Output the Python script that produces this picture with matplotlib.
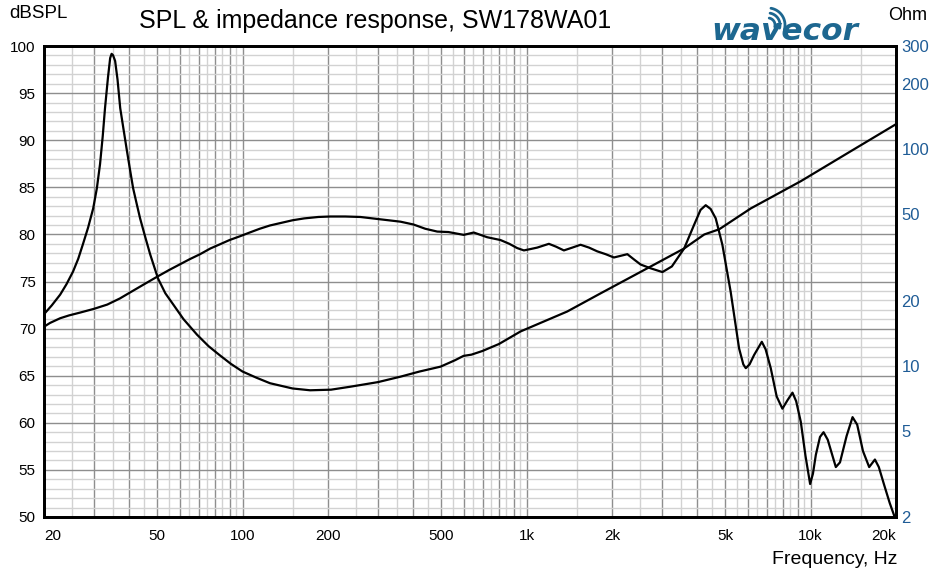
import numpy as np
import matplotlib
matplotlib.use("Agg")
import matplotlib.pyplot as plt
from matplotlib.ticker import FixedLocator, MultipleLocator, NullFormatter

plt.rcParams['font.family'] = ['Liberation Sans', 'DejaVu Sans']

# ---------------- data ----------------
spl_freq = [20, 21, 22.8, 24.5, 26.8, 30, 33.4, 37, 40, 45, 50, 55, 60, 65, 70.9, 77, 84, 90, 97.9,
            106, 115, 125, 135.8, 150, 165, 185, 204, 230, 260,
            306, 360, 400, 440, 485, 531, 601, 652, 727, 810, 870, 927, 979, 1035, 1091,
            1199, 1270, 1354, 1450, 1550, 1660, 1775, 1900, 2031, 2265, 2400, 2523, 2736,
            3010, 3250, 3589, 3889, 4100, 4276, 4450, 4637, 4894, 5235, 5604, 5800, 5917,
            6100, 6330, 6738, 6950, 7244, 7600, 7962, 8300, 8640, 8900, 9243, 9600, 9969,
            10200, 10442, 10800, 11115, 11500, 12278, 12700, 13400, 14062, 14600, 15300,
            16091, 16859, 17400, 18170, 19000, 20000]
spl_db = [70.2, 70.6, 71.1, 71.4, 71.7, 72.1, 72.55, 73.2, 73.8, 74.7, 75.5, 76.2, 76.8, 77.35, 77.9,
          78.5, 79.0, 79.4, 79.8, 80.2, 80.6, 80.95, 81.2, 81.5, 81.7, 81.85, 81.9, 81.9, 81.85,
          81.6, 81.35, 81.05, 80.6, 80.3, 80.25, 79.95, 80.2, 79.7, 79.4, 79.0, 78.55, 78.3, 78.45, 78.6,
          79.0, 78.7, 78.3, 78.6, 78.9, 78.6, 78.2, 77.9, 77.55, 77.9, 77.3, 76.8, 76.4,
          76.0, 76.6, 78.5, 81.0, 82.6, 83.1, 82.7, 81.7, 78.9, 73.9, 67.9, 66.2, 65.8,
          66.2, 67.2, 68.6, 67.8, 65.8, 62.8, 61.5, 62.4, 63.2, 62.3, 60.1, 56.5, 53.5,
          54.6, 56.6, 58.5, 59.0, 58.2, 55.3, 55.8, 58.6, 60.6, 59.8, 57.0,
          55.3, 56.1, 55.3, 53.4, 51.5, 49.6]

imp_freq = [20, 21.3, 22.8, 24.0, 25.3, 26.4, 27.4, 28.6, 29.8, 30.7, 31.5, 32.2, 32.8, 33.6,
            34.2, 34.6, 35.0, 35.6, 36.3, 37.1, 38.1, 39.2, 40.2, 41.2, 42.4, 43.6, 45.4,
            47.3, 50.4, 53.5, 57.0, 62, 69.2, 76, 83, 91, 100, 112, 125, 150, 173, 205, 240,
            300, 360, 420, 498, 560, 600, 640, 700, 800, 953, 1150, 1391, 1824, 2664, 3589,
            4226, 4771, 6163, 9243, 13870, 20000]
imp_ohm = [17.3, 19.0, 21.3, 23.8, 27.2, 31.2, 36.3, 43.5, 53.3, 66.0, 85.3, 115, 155, 215,
           264, 276, 272, 256, 210, 155, 124, 97.9, 80.0, 66.0, 56.0, 47.9, 39.5,
           32.7, 25.3, 21.6, 19.2, 16.4, 13.9, 12.3, 11.2, 10.2, 9.4, 8.8, 8.3, 7.85, 7.7, 7.75, 8.0,
           8.4, 8.9, 9.4, 9.9, 10.6, 11.1, 11.25, 11.7, 12.6, 14.4, 16.0, 17.8, 21.6, 28.2, 34.8,
           40.4, 42.7, 53.3, 71.2, 98.0, 130.6]

x_grid_major = [20, 30, 40, 50, 60, 70, 80, 90, 100, 200, 300, 400, 500, 600, 700, 800, 900,
                1000, 2000, 3000, 4000, 5000, 6000, 7000, 8000, 9000, 10000, 20000]
x_grid_minor = [25, 35, 45, 55, 65, 75, 85, 95, 150, 250, 350, 450, 550, 650, 750, 850, 950,
                1500, 2500, 3500, 4500, 5500, 6500, 7500, 8500, 9500, 15000]
x_tick_vals = [20, 50, 100, 200, 500, 1000, 2000, 5000, 10000, 20000]
x_tick_labels = ['20', '50', '100', '200', '500', '1k', '2k', '5k', '10k', '20k']
y_tick_vals = [50, 55, 60, 65, 70, 75, 80, 85, 90, 95, 100]
ohm_tick_vals = [2, 5, 10, 20, 50, 100, 200, 300]
ohm_tick_labels = ['2', '5', '10', '20', '50', '100', '200', '300']

# ---------------- figure ----------------
W, H = 932, 571
fig = plt.figure(figsize=(W / 100, H / 100), dpi=100)
L, R, T, B = 44, 896, 46, 517
ax = fig.add_axes([L / W, 1 - B / H, (R - L) / W, (B - T) / H])

ax.set_xscale('log')
ax.set_xlim(20, 20000)
ax.set_ylim(50, 100)

ax.xaxis.set_major_locator(FixedLocator(x_grid_major))
ax.xaxis.set_minor_locator(FixedLocator(x_grid_minor))
ax.xaxis.set_minor_formatter(NullFormatter())
ax.yaxis.set_major_locator(MultipleLocator(5))
ax.yaxis.set_minor_locator(MultipleLocator(1))
ax.grid(which='major', color='#8e8e8e', lw=1.0)
ax.grid(which='minor', color='#d2d2d2', lw=1.0)
ax.set_axisbelow(True)

lbls = [x_tick_labels[x_tick_vals.index(v)] if v in x_tick_vals else '' for v in x_grid_major]
ax.set_xticks(x_grid_major)
texts = ax.set_xticklabels(lbls)
for t in texts:
    if t.get_text() == '20':
        t.set_ha('left')
    elif t.get_text() == '20k':
        t.set_ha('right')
ax.set_yticks(y_tick_vals)
ax.set_yticklabels([str(v) for v in y_tick_vals])
ax.tick_params(axis='both', which='both', length=0)
ax.tick_params(axis='x', pad=9, labelsize=11, labelcolor='black')
ax.tick_params(axis='y', pad=6, labelsize=11, labelcolor='black')

ax.plot(spl_freq, spl_db, color='black', lw=1.6, solid_joinstyle='round', zorder=3)

ax2 = ax.twinx()
ax2.set_yscale('log')
ax2.set_ylim(2, 300)
ax2.set_yticks(ohm_tick_vals)
ax2.set_yticklabels(ohm_tick_labels)
ax2.yaxis.set_minor_locator(FixedLocator([]))
ax2.tick_params(axis='y', which='both', length=0, pad=4, labelsize=12, labelcolor='#1f5c96')
ax2.plot(imp_freq, imp_ohm, color='black', lw=1.6, solid_joinstyle='round', zorder=3)

for a in (ax, ax2):
    for s in a.spines.values():
        s.set_linewidth(2.0)
        s.set_color('black')

# ---------------- texts ----------------
fig.text(9 / W, 1 - 14 / H, 'dBSPL', fontsize=13.5, ha='left', va='center')
fig.text(375 / W, 1 - 21 / H, 'SPL & impedance response, SW178WA01', fontsize=18,
         ha='center', va='center')
fig.text(927 / W, 1 - 16 / H, 'Ohm', fontsize=13, ha='right', va='center')
fig.text(897 / W, 1 - 559 / H, 'Frequency, Hz', fontsize=14, ha='right', va='center')

# ---------------- logo ----------------
ov = fig.add_axes([0, 0, 1, 1])
ov.set_xlim(0, W)
ov.set_ylim(H, 0)
ov.axis('off')
logo_col = '#1d6790'
ov.text(711, 40, 'wavecor', fontsize=22.5, fontweight='bold', style='oblique',
        family='DejaVu Sans', color=logo_col, ha='left', va='baseline')
cx, cy = 768, 25
for r in (7, 12, 17):
    th = np.linspace(np.deg2rad(-15), np.deg2rad(80), 30)
    ov.plot(cx + r * np.cos(th), cy - r * np.sin(th), color=logo_col, lw=2.0,
            solid_capstyle='round')

fig.savefig('out.png', dpi=100)
